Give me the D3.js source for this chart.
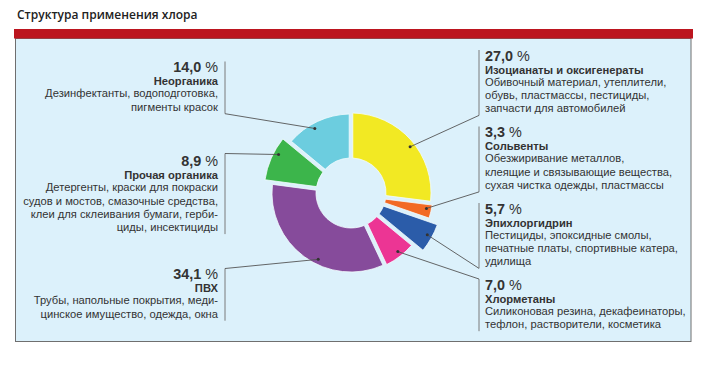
<!DOCTYPE html>
<html>
<head>
<meta charset="utf-8">
<script src="https://cdn.jsdelivr.net/npm/d3@7"></script>
<style>
body { margin: 0; background: #fff; }
text { font-family: "Liberation Sans", Arial, sans-serif; fill: #333; }
</style>
</head>
<body>
<div id="vis-container"></div>
<script>
// data
var names = ["Изоцианаты и оксигенераты", "Сольвенты", "Эпихлоргидрин", "Хлорметаны", "ПВХ", "Прочая органика", "Неорганика"];
var shares = [27.0, 3.3, 5.7, 7.0, 34.1, 8.9, 14.0];
var descs = [
	["Обивочный материал, утеплители,", "обувь, пластмассы, пестициды,", "запчасти для автомобилей"],
	["Обезжиривание металлов,", "клеящие и связывающие вещества,", "сухая чистка одежды, пластмассы"],
	["Пестициды, эпоксидные смолы,", "печатные платы, спортивные катера,", "удилища"],
	["Силиконовая резина, декафеинаторы,", "тефлон, растворители, косметика"],
	["Трубы, напольные покрытия, меди-", "цинское имущество, одежда, окна"],
	["Детергенты, краски для покраски", "судов и мостов, смазочные средства,", "клеи для склеивания бумаги, герби-", "циды, инсектициды"],
	["Дезинфектанты, водоподготовка,", "пигменты красок"]
];
var colors = ["#f2e923", "#f26a25", "#2b5ca9", "#ec3594", "#864b9b", "#3cb54b", "#6ccddf"];
var title = "Структура применения хлора";

// layout
var width = 711, height = 370;
var cx = 351, cy = 193, innerR = 35;
var outerR = [80, 82, 92, 80, 79, 87, 79];
var dotTurn = [3.4, -1.6, -0.6, -0.8, -9.9, 4.4, -4.1]; // degrees off the slice middle
var labelPos = [
	{ side: "r", top: 50, end: "bottom" },
	{ side: "r", top: 126.5, end: "bottom" },
	{ side: "r", top: 203, end: "bottom" },
	{ side: "r", top: 279, end: "top" },
	{ side: "l", top: 268.5, end: "top" },
	{ side: "l", top: 155.5, end: "top", barTop: 153.5 },
	{ side: "l", top: 61.5, end: "bottom" }
];
var lineStep = 13.2;

var svg = d3.select("#vis-container")
	.append("svg")
	.attr("width", width)
	.attr("height", height);

svg.append("text")
	.attr("x", 17)
	.attr("y", 18.5)
	.style("font-family", "'Open Sans', sans-serif")
	.style("font-weight", 600)
	.style("font-size", "12px")
	.style("fill", "#222")
	.text(title);

// panel
svg.append("rect")
	.attr("x", 15.5).attr("y", 38.5)
	.attr("width", 675.5).attr("height", 303)
	.attr("fill", "#dcf1fb")
	.attr("stroke", "#6f6f6f")
	.attr("stroke-width", 1);
svg.append("rect")
	.attr("x", 14).attr("y", 29)
	.attr("width", 679).attr("height", 9.5)
	.attr("fill", "#bc151f");

var pie = d3.pie().sort(null).value(function (d) { return d; });
var arcs = pie(shares);

var arc = d3.arc()
	.innerRadius(innerR)
	.outerRadius(function (d) { return outerR[d.index]; })
	.padAngle(0.045)
	.padRadius(80);

var g = svg.append("g").attr("transform", "translate(" + cx + "," + cy + ")");

g.selectAll("path.slice")
	.data(arcs)
	.enter().append("path")
	.attr("class", "slice")
	.attr("d", arc)
	.attr("fill", function (d) { return colors[d.index]; })
	.attr("stroke", "#f3fbfe")
	.attr("stroke-width", 0.8);

var fmt = d3.format(".1f");

arcs.forEach(function (d, i) {
	var a = (d.startAngle + d.endAngle) / 2 + dotTurn[i] * Math.PI / 180;
	var r = outerR[i] - 5;
	var px = cx + r * Math.sin(a), py = cy - r * Math.cos(a);
	var p = labelPos[i];
	var right = p.side === "r";
	var barX = right ? 479 : 225;
	var textX = right ? 485 : 218;
	var anchor = right ? "start" : "end";
	var n = descs[i].length;
	var lastBase = p.top + 10 + 13 + 12.5 + (n - 1) * lineStep;
	var barTop = p.barTop || p.top;
	var barBottom = lastBase + 3.5;

	svg.append("line")
		.attr("x1", barX).attr("x2", barX)
		.attr("y1", barTop).attr("y2", barBottom)
		.attr("stroke", "#7a7a7a")
		.attr("stroke-width", 1);

	svg.append("line")
		.attr("x1", px).attr("y1", py)
		.attr("x2", barX).attr("y2", p.end === "top" ? barTop : barBottom)
		.attr("stroke", "#555")
		.attr("stroke-width", 0.9);

	svg.append("circle")
		.attr("cx", px).attr("cy", py)
		.attr("r", 1.5)
		.attr("fill", "#333");

	var pct = svg.append("text")
		.attr("x", textX).attr("y", p.top + 10.5)
		.attr("text-anchor", anchor)
		.style("font-size", "14.4px")
		.style("font-weight", "bold");
	pct.append("tspan").text(fmt(d.data).replace(".", ","));
	pct.append("tspan").style("font-weight", "normal").text("\u00a0%");

	svg.append("text")
		.attr("x", textX).attr("y", p.top + 23.5)
		.attr("text-anchor", anchor)
		.style("font-size", "11.2px")
		.style("font-weight", "bold")
		.text(names[i]);

	svg.append("g").selectAll("text")
		.data(descs[i])
		.enter().append("text")
		.attr("x", textX)
		.attr("y", function (t, k) { return p.top + 35.8 + k * lineStep; })
		.attr("text-anchor", anchor)
		.style("font-size", "11.2px")
		.text(function (t) { return t; });
});
</script>
</body>
</html>
